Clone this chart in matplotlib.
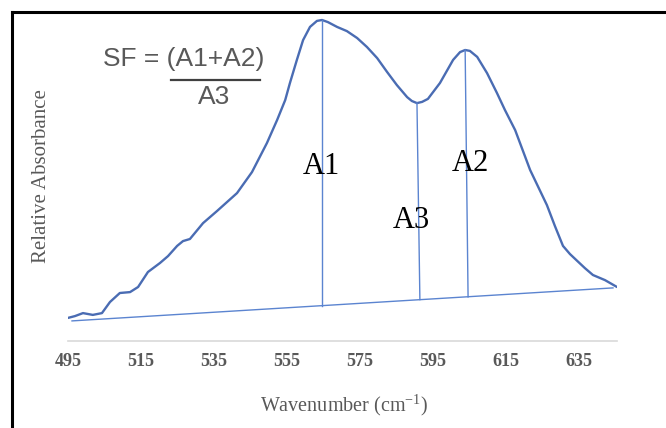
import matplotlib
matplotlib.use("Agg")
import matplotlib.pyplot as plt
from matplotlib.lines import Line2D

# spectrum
wavenumber = [495.0, 496.9, 499.1, 501.8, 504.3, 506.5, 509.2, 512.0, 514.2, 516.9,
              520.2, 522.4, 524.9, 526.5, 528.4, 532.0, 535.8, 541.3, 545.4, 549.5,
              552.3, 554.5, 555.8, 557.7, 559.4, 561.3, 563.2, 564.6, 566.2, 568.7,
              571.4, 574.2, 576.9, 579.7, 582.4, 585.1, 587.9, 589.2, 590.6, 592.0,
              593.6, 596.9, 600.5, 602.4, 603.8, 605.1, 607.1, 609.8, 612.5, 614.7,
              617.5, 621.6, 626.2, 628.4, 630.6, 632.5, 634.5, 636.6, 638.8, 642.1,
              645.4]
absorbance = [0.077, 0.083, 0.093, 0.087, 0.093, 0.130, 0.160, 0.163, 0.180, 0.230,
              0.260, 0.283, 0.317, 0.333, 0.340, 0.393, 0.433, 0.493, 0.563, 0.660,
              0.737, 0.803, 0.860, 0.937, 1.003, 1.047, 1.067, 1.070, 1.063, 1.047,
              1.033, 1.010, 0.980, 0.943, 0.897, 0.853, 0.813, 0.800, 0.793, 0.797,
              0.807, 0.860, 0.937, 0.963, 0.970, 0.967, 0.947, 0.893, 0.827, 0.770,
              0.703, 0.570, 0.453, 0.383, 0.317, 0.290, 0.267, 0.243, 0.220, 0.203,
              0.180]

baseline_x = [496.1, 644.3]
baseline_y = [0.067, 0.177]

# peak / valley drop lines
drop_names = ["A1", "A3", "A2"]
drop_top_x = [564.6, 590.6, 603.8]
drop_top_y = [1.070, 0.793, 0.970]
drop_bot_x = [564.6, 591.4, 604.6]
drop_bot_y = [0.118, 0.138, 0.147]
label_x = [564.3, 589.2, 605.1]
label_y = [0.580, 0.403, 0.593]

xticks = [495, 515, 535, 555, 575, 595, 615, 635]

grey = "#595959"
curve_blue = "#4a6cb3"
line_blue = "#5b84d0"

fig = plt.figure(figsize=(6.66, 4.28), dpi=100)
ax = fig.add_axes([68 / 666, 87 / 428, 549 / 666, 330 / 428])

ax.plot(wavenumber, absorbance, color=curve_blue, lw=1.7,
        solid_joinstyle="round", solid_capstyle="round")
ax.plot(baseline_x, baseline_y, color=line_blue, lw=1.0)
for i in range(len(drop_names)):
    ax.plot([drop_top_x[i], drop_bot_x[i]], [drop_top_y[i], drop_bot_y[i]],
            color=line_blue, lw=1.0)
    ax.text(label_x[i], label_y[i], drop_names[i], ha="center", va="center",
            family="Liberation Serif", fontsize=22, color="black")

ax.set_xlim(495, 645.4)
ax.set_ylim(0, 1.1)
ax.set_xticks(xticks)
ax.set_xticklabels([str(t) for t in xticks], family="Liberation Serif",
                   fontweight="bold", fontsize=13, color=grey)
ax.set_yticks([])
ax.tick_params(axis="x", length=0, pad=9)
for s in ["top", "right", "left"]:
    ax.spines[s].set_visible(False)
ax.spines["bottom"].set_color("#d9d9d9")
ax.spines["bottom"].set_linewidth(1.2)

# formula
fig.text(184 / 666, 1 - 59 / 428, "SF = (A1+A2)", ha="center", va="center",
         family="Liberation Sans", fontsize=19, color=grey)
fig.text(214 / 666, 1 - 97 / 428, "A3", ha="center", va="center",
         family="Liberation Sans", fontsize=19, color=grey)
fig.add_artist(Line2D([171 / 666, 260 / 666], [1 - 80 / 428, 1 - 80 / 428],
                      transform=fig.transFigure, color="#404040", lw=1.6))

fig.text(42 / 666, 1 - 176 / 428, "Relative Absorbance", rotation=90,
         ha="center", va="center", family="Liberation Serif", fontsize=15, color=grey)
fig.text(344 / 666, 1 - 405 / 428, "Wavenumber (cm$^{\\mathregular{-1}}$)",
         ha="center", va="center", family="Liberation Serif", fontsize=14.5, color=grey)

# outer frame (left and top edges visible)
fig.add_artist(Line2D([11.5 / 666, 11.5 / 666], [0, 1 - 11.5 / 428],
                      transform=fig.transFigure, color="black", lw=2.2))
fig.add_artist(Line2D([11.5 / 666, 1], [1 - 11.5 / 428, 1 - 11.5 / 428],
                      transform=fig.transFigure, color="black", lw=2.2))

fig.savefig("out.png", dpi=100)
